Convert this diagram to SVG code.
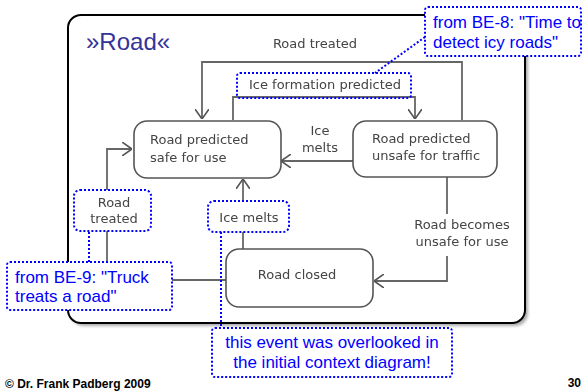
<svg xmlns="http://www.w3.org/2000/svg" width="586" height="392" viewBox="0 0 586 392">
  <defs>
    <style>
      .state { fill: #ffffff; stroke: #555555; stroke-width: 1.6; }
      .edge { fill: none; stroke: #666666; stroke-width: 1.8; }
      .lbl { font-family: "DejaVu Sans", sans-serif; font-size: 13px; fill: #444444; }
      .note { fill: #ffffff; stroke: #0000ff; stroke-width: 2; stroke-dasharray: 2 2; }
      .tag { fill: none; stroke: #0000ff; stroke-width: 2; stroke-dasharray: 2 2; }
      .ntxt { font-family: "Liberation Sans", Arial, sans-serif; font-size: 17px; fill: #0000ff; }
      .foot { font-family: "Liberation Sans", Arial, sans-serif; font-size: 12px; font-weight: bold; fill: #000000; }
    </style>
    <marker id="open" viewBox="0 0 10 14" refX="10" refY="7" markerWidth="10" markerHeight="14" markerUnits="userSpaceOnUse" orient="auto">
      <path d="M0,0 L10,7 L0,14" fill="none" stroke="#555555" stroke-width="1.6"/>
    </marker>
    <filter id="soft" x="-5%" y="-5%" width="110%" height="110%">
      <feGaussianBlur stdDeviation="1.5"/>
    </filter>
    <filter id="haze" x="-5%" y="-5%" width="110%" height="110%">
      <feGaussianBlur stdDeviation="0.35"/>
    </filter>
  </defs>

  <rect width="586" height="392" fill="#ffffff"/>

  <!-- state machine frame -->
  <g id="frame">
    <rect x="71" y="18" width="457" height="308" rx="13" fill="#aaaaaa" filter="url(#soft)"/>
    <rect x="68" y="15" width="457" height="308" rx="13" fill="#ffffff" stroke="#000000" stroke-width="2"/>
    <text x="86" y="50" font-family="Liberation Sans, Arial, sans-serif" font-size="24" fill="#333399">»Road«</text>
  </g>

  <g filter="url(#haze)">
    <!-- transitions -->
    <g id="connectors">
      <path class="edge" d="M462,120 V62 H202 V119" marker-end="url(#open)"/>
      <path class="edge" d="M233,120 V97 H415 V119" marker-end="url(#open)"/>
      <path class="edge" d="M353,161 H281" marker-end="url(#open)"/>
      <path class="edge" d="M227,280 H107 V149 H132" marker-end="url(#open)"/>
      <path class="edge" d="M243,249 V179" marker-end="url(#open)"/>
      <path class="edge" d="M447,177 V214 M447,256 V281 H374" marker-end="url(#open)"/>
    </g>

    <!-- states -->
    <g id="safe">
      <rect class="state" x="134" y="121" width="147" height="57" rx="13"/>
      <text class="lbl" x="150" y="144">Road predicted</text>
      <text class="lbl" x="150" y="162">safe for use</text>
    </g>
    <g id="unsafe">
      <rect class="state" x="353" y="121" width="144" height="56" rx="13"/>
      <text class="lbl" x="372" y="143">Road predicted</text>
      <text class="lbl" x="372" y="160">unsafe for traffic</text>
    </g>
    <g id="closed">
      <rect class="state" x="226" y="249" width="147" height="58" rx="13"/>
      <text class="lbl" x="297" y="279" text-anchor="middle">Road closed</text>
    </g>

    <!-- transition labels -->
    <g id="lbl-treated-top">
      <text class="lbl" x="315" y="48" text-anchor="middle">Road treated</text>
    </g>
    <g id="lbl-ice-melts-right">
      <text class="lbl" x="320" y="135" text-anchor="middle">Ice</text>
      <text class="lbl" x="320" y="152" text-anchor="middle">melts</text>
    </g>
    <g id="lbl-becomes-unsafe">
      <text class="lbl" x="462" y="229" text-anchor="middle">Road becomes</text>
      <text class="lbl" x="462" y="246" text-anchor="middle">unsafe for use</text>
    </g>
  </g>

  <!-- highlighted events -->
  <g id="ev-ice-formation">
    <rect class="tag" x="237" y="73" width="174" height="25" rx="3"/>
    <text class="lbl" x="325" y="89" text-anchor="middle" filter="url(#haze)">Ice formation predicted</text>
  </g>
  <g id="ev-road-treated">
    <rect class="note" x="74" y="190" width="77" height="41" rx="6"/>
    <text class="lbl" x="114" y="207" text-anchor="middle" filter="url(#haze)">Road</text>
    <text class="lbl" x="114" y="223" text-anchor="middle" filter="url(#haze)">treated</text>
  </g>
  <g id="ev-ice-melts">
    <rect class="note" x="208" y="201" width="81" height="31" rx="6"/>
    <text class="lbl" x="249" y="222" text-anchor="middle" filter="url(#haze)">Ice melts</text>
  </g>

  <!-- annotation leaders -->
  <g id="leaders">
    <path class="tag" d="M425,37 L375,73"/>
    <path class="tag" d="M89,232 V262"/>
    <path class="tag" d="M221,232 V328"/>
  </g>

  <!-- annotations -->
  <g id="note-be8">
    <rect class="note" x="425" y="7" width="156" height="49" rx="3"/>
    <text class="ntxt" x="433" y="28">from BE-8: "Time to</text>
    <text class="ntxt" x="433" y="48">detect icy roads"</text>
  </g>
  <g id="note-be9">
    <rect class="note" x="7" y="262" width="165" height="48" rx="3"/>
    <text class="ntxt" x="15" y="283">from BE-9: "Truck</text>
    <text class="ntxt" x="15" y="302">treats a road"</text>
  </g>
  <g id="note-overlooked">
    <rect class="note" x="212" y="328" width="240" height="49" rx="3"/>
    <text class="ntxt" x="332" y="348" text-anchor="middle">this event was overlooked in</text>
    <text class="ntxt" x="332" y="368" text-anchor="middle">the initial context diagram!</text>
  </g>

  <!-- footer -->
  <text class="foot" x="5" y="388">© Dr. Frank Padberg 2009</text>
  <text class="foot" x="581" y="387" text-anchor="end">30</text>
</svg>
